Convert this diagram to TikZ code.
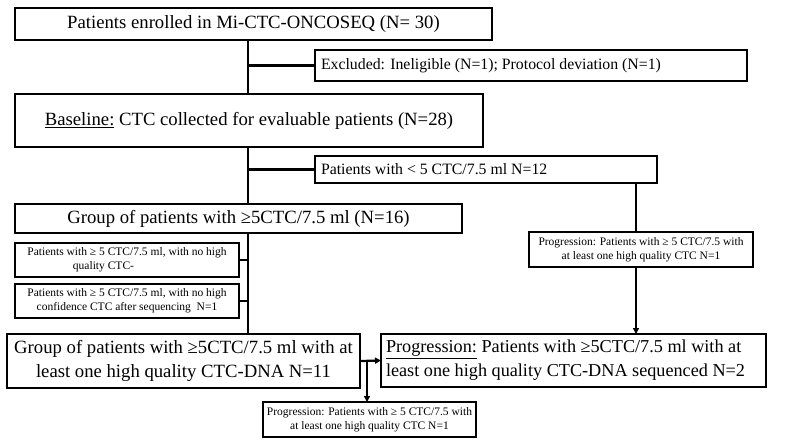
\documentclass[tikz,border=0pt]{standalone}
\usepackage{fontspec}
\setmainfont{Liberation Serif}
\usetikzlibrary{arrows.meta}
\begin{document}
\begin{tikzpicture}[x=1pt,y=-1pt,
  box/.style={draw, line width=2.6pt, rectangle, inner sep=0pt, outer sep=0pt},
  big/.style={font=\fontsize{18.7}{24}\selectfont},
  mid/.style={font=\fontsize{15.8}{18}\selectfont},
  small/.style={font=\fontsize{11.5}{14}\selectfont},
  conn/.style={line width=2.2pt},
  arr/.style={line width=2.2pt, -{Triangle[length=6pt,width=6pt]}},
]
\useasboundingbox (0,0) rectangle (800,445);
\coordinate (v) at (248,0);
\coordinate (w) at (636,0);
\coordinate (u) at (367,0);

\node[box, big, minimum width=477pt, minimum height=32pt] (b1) at (253.5,24) {Patients enrolled in Mi-CTC-ONCOSEQ (N= 30)};
\node[box, mid, minimum width=432pt, minimum height=31pt, text width=420pt, align=flush left] (ex) at (531,65.5) {Excluded: Ineligible (N=1); Protocol deviation (N=1)};
\node[box, big, minimum width=468pt, minimum height=53pt] (bl) at (249,120.5) {\underline{Baseline:} CTC collected for evaluable patients (N=28)};
\node[box, mid, minimum width=342pt, minimum height=27pt, text width=330pt, align=flush left] (lt) at (486,169.5) {Patients with < 5 CTC/7.5 ml N=12};
\node[box, big, minimum width=447pt, minimum height=29pt] (g16) at (238.5,218.5) {Group of patients with ≥5CTC/7.5 ml (N=16)};
\node[box, small, minimum width=224pt, minimum height=35pt, align=center] (ps) at (641,249.5) {Progression: Patients with ≥ 5 CTC/7.5 with\\at least one high quality CTC N=1};
\node[box, small, minimum width=224pt, minimum height=34pt, align=center] (na) at (127,260) {Patients with ≥ 5 CTC/7.5 ml, with no high\\quality CTC-\hspace*{47pt}};
\node[box, small, minimum width=224pt, minimum height=34pt, align=center] (nb) at (127,301) {Patients with ≥ 5 CTC/7.5 ml, with no high\\confidence CTC after sequencing\ \ N=1};
\node[box, big, minimum width=353pt, minimum height=54pt, align=center] (g11) at (183.5,361) {Group of patients with ≥5CTC/7.5 ml with at\\least one high quality CTC-DNA N=11};
\node[box, font=\fontsize{18.2}{24}\selectfont, minimum width=385pt, minimum height=53pt, text width=375pt, align=flush left] (pb) at (573.5,360.5) {\underline{Progression:} Patients with ≥5CTC/7.5 ml with at\\least one high quality CTC-DNA sequenced N=2};
\node[box, small, minimum width=213pt, minimum height=35pt, align=center] (pl) at (369.5,419.5) {Progression: Patients with ≥ 5 CTC/7.5 with\\at least one high quality CTC N=1};

% main trunk
\draw[conn] (b1.south -| v) -- (bl.north -| v);
\draw[conn] (ex.west -| v) -- (ex.west);
\draw[conn] (bl.south -| v) -- (g16.north -| v);
\draw[conn] (lt.west -| v) -- (lt.west);
\draw[conn] (g16.south -| v) -- (g11.north -| v);
\draw[conn] (na.east) -- (na.east -| v);
\draw[conn] (nb.east) -- (nb.east -| v);
% right branch
\draw[conn] (lt.south -| w) -- (ps.north -| w);
\draw[arr] (ps.south -| w) -- (pb.north -| w);
% bottom
\draw[arr] (g11.east) -- (pb.west);
\draw[arr] (g11.east -| u) -- (pl.north -| u);
\end{tikzpicture}
\end{document}
